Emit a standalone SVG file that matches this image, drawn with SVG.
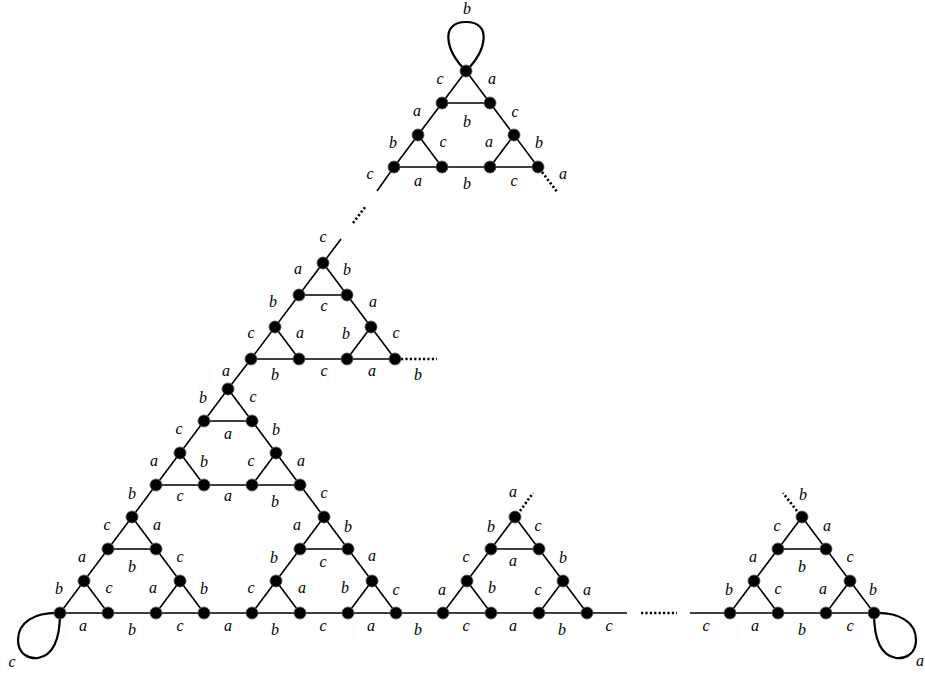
<svg xmlns="http://www.w3.org/2000/svg" width="925" height="675" viewBox="0 0 925 675">
<style>
.e{fill:none;stroke:#000;stroke-width:1.6;stroke-linecap:butt}
.d{fill:none;stroke:#000;stroke-width:2.6;stroke-dasharray:2.2,2.2}
.lp{fill:none;stroke:#000;stroke-width:2.2}
.n{fill:#000;stroke:#555;stroke-width:0.8}
text{font-family:"Liberation Serif",serif;font-style:italic;font-size:16px;text-anchor:middle;fill:#000}
</style>
<rect width="925" height="675" fill="#fff"/>
<g id="connectors">
<path class="e" d="M466,71 L394,167 M466,71 L538,167 M394,167 L538,167 M442,103 L490,103 M418,135 L442,167 M514,135 L490,167"/>
<path class="e" d="M323,263 L251,359 M323,263 L395,359 M251,359 L395,359 M299,295 L347,295 M275,327 L299,359 M371,327 L347,359"/>
<path class="e" d="M228,389 L60,613 M228,389 L396,613 M156,485 L300,485 M132,517 L204,613 M324,517 L252,613 M204,421 L252,421 M180,453 L204,485 M276,453 L252,485 M108,549 L156,549 M84,581 L108,613 M180,581 L156,613 M300,549 L348,549 M276,581 L300,613 M372,581 L348,613"/>
<path class="e" d="M60,613 L627,613 M690,613 L874,613"/>
<path class="e" d="M515,517 L443,613 M515,517 L587,613 M491,549 L539,549 M467,581 L491,613 M563,581 L539,613"/>
<path class="e" d="M802,517 L730,613 M802,517 L874,613 M778,549 L826,549 M754,581 L778,613 M850,581 L826,613"/>
<path class="e" d="M251,359 L228,389 M323,263 L341,239 M377,191 L394,167"/>
<path class="d" d="M353,223 L366,206 M401,359 L437,359 M542,172 L558,193 M520,511 L533,493 M797,511 L783,493 M641,613 L677,613"/>
<path class="lp" d="M466,71 C445,50 440,22 466,22 C492,22 487,50 466,71"/>
<path class="lp" d="M60,613 C35,612 18,622 18,640 C18,655 30,659 38,658 C55,655 60,635 60,613"/>
<path class="lp" d="M874,613 C899,612 916,622 916,640 C916,655 904,659 896,658 C879,655 874,635 874,613"/>
</g>
<g id="nodes">
<g id="t1"><circle class="n" cx="466" cy="71" r="6"/></g>
<g id="t2"><circle class="n" cx="442" cy="103" r="6"/></g>
<g id="t3"><circle class="n" cx="490" cy="103" r="6"/></g>
<g id="t4"><circle class="n" cx="418" cy="135" r="6"/></g>
<g id="t5"><circle class="n" cx="514" cy="135" r="6"/></g>
<g id="t6"><circle class="n" cx="394" cy="167" r="6"/></g>
<g id="t7"><circle class="n" cx="442" cy="167" r="6"/></g>
<g id="t8"><circle class="n" cx="490" cy="167" r="6"/></g>
<g id="t9"><circle class="n" cx="538" cy="167" r="6"/></g>
<g id="m1"><circle class="n" cx="323" cy="263" r="6"/></g>
<g id="m2"><circle class="n" cx="299" cy="295" r="6"/></g>
<g id="m3"><circle class="n" cx="347" cy="295" r="6"/></g>
<g id="m4"><circle class="n" cx="275" cy="327" r="6"/></g>
<g id="m5"><circle class="n" cx="371" cy="327" r="6"/></g>
<g id="m6"><circle class="n" cx="251" cy="359" r="6"/></g>
<g id="m7"><circle class="n" cx="299" cy="359" r="6"/></g>
<g id="m8"><circle class="n" cx="347" cy="359" r="6"/></g>
<g id="m9"><circle class="n" cx="395" cy="359" r="6"/></g>
<g id="a1"><circle class="n" cx="228" cy="389" r="6"/></g>
<g id="a2"><circle class="n" cx="204" cy="421" r="6"/></g>
<g id="a3"><circle class="n" cx="252" cy="421" r="6"/></g>
<g id="a4"><circle class="n" cx="180" cy="453" r="6"/></g>
<g id="a5"><circle class="n" cx="276" cy="453" r="6"/></g>
<g id="a6"><circle class="n" cx="156" cy="485" r="6"/></g>
<g id="a7"><circle class="n" cx="204" cy="485" r="6"/></g>
<g id="a8"><circle class="n" cx="252" cy="485" r="6"/></g>
<g id="a9"><circle class="n" cx="300" cy="485" r="6"/></g>
<g id="b1"><circle class="n" cx="132" cy="517" r="6"/></g>
<g id="b2"><circle class="n" cx="108" cy="549" r="6"/></g>
<g id="b3"><circle class="n" cx="156" cy="549" r="6"/></g>
<g id="b4"><circle class="n" cx="84" cy="581" r="6"/></g>
<g id="b5"><circle class="n" cx="180" cy="581" r="6"/></g>
<g id="b6"><circle class="n" cx="60" cy="613" r="6"/></g>
<g id="b7"><circle class="n" cx="108" cy="613" r="6"/></g>
<g id="b8"><circle class="n" cx="156" cy="613" r="6"/></g>
<g id="b9"><circle class="n" cx="204" cy="613" r="6"/></g>
<g id="c1"><circle class="n" cx="324" cy="517" r="6"/></g>
<g id="c2"><circle class="n" cx="300" cy="549" r="6"/></g>
<g id="c3"><circle class="n" cx="348" cy="549" r="6"/></g>
<g id="c4"><circle class="n" cx="276" cy="581" r="6"/></g>
<g id="c5"><circle class="n" cx="372" cy="581" r="6"/></g>
<g id="c6"><circle class="n" cx="252" cy="613" r="6"/></g>
<g id="c7"><circle class="n" cx="300" cy="613" r="6"/></g>
<g id="c8"><circle class="n" cx="348" cy="613" r="6"/></g>
<g id="c9"><circle class="n" cx="396" cy="613" r="6"/></g>
<g id="d1"><circle class="n" cx="515" cy="517" r="6"/></g>
<g id="d2"><circle class="n" cx="491" cy="549" r="6"/></g>
<g id="d3"><circle class="n" cx="539" cy="549" r="6"/></g>
<g id="d4"><circle class="n" cx="467" cy="581" r="6"/></g>
<g id="d5"><circle class="n" cx="563" cy="581" r="6"/></g>
<g id="d6"><circle class="n" cx="443" cy="613" r="6"/></g>
<g id="d7"><circle class="n" cx="491" cy="613" r="6"/></g>
<g id="d8"><circle class="n" cx="539" cy="613" r="6"/></g>
<g id="d9"><circle class="n" cx="587" cy="613" r="6"/></g>
<g id="r1"><circle class="n" cx="802" cy="517" r="6"/></g>
<g id="r2"><circle class="n" cx="778" cy="549" r="6"/></g>
<g id="r3"><circle class="n" cx="826" cy="549" r="6"/></g>
<g id="r4"><circle class="n" cx="754" cy="581" r="6"/></g>
<g id="r5"><circle class="n" cx="850" cy="581" r="6"/></g>
<g id="r6"><circle class="n" cx="730" cy="613" r="6"/></g>
<g id="r7"><circle class="n" cx="778" cy="613" r="6"/></g>
<g id="r8"><circle class="n" cx="826" cy="613" r="6"/></g>
<g id="r9"><circle class="n" cx="874" cy="613" r="6"/></g>
</g>
<g id="labels">
<text x="467" y="14">b</text>
<text x="440" y="84">c</text>
<text x="492" y="84">a</text>
<text x="417" y="116">a</text>
<text x="467" y="127">b</text>
<text x="515" y="117">c</text>
<text x="393" y="148">b</text>
<text x="443" y="147">c</text>
<text x="489" y="147">a</text>
<text x="539" y="148">b</text>
<text x="370" y="179">c</text>
<text x="418" y="186">a</text>
<text x="467" y="189">b</text>
<text x="514" y="186">c</text>
<text x="563" y="179">a</text>

<text x="323" y="242">c</text>
<text x="298" y="274">a</text>
<text x="347" y="275">b</text>
<text x="273" y="307">b</text>
<text x="324" y="311">c</text>
<text x="373" y="307">a</text>
<text x="251" y="338">c</text>
<text x="300" y="338">a</text>
<text x="346" y="339">b</text>
<text x="396" y="338">c</text>
<text x="275" y="380">b</text>
<text x="324" y="376">c</text>
<text x="372" y="376">a</text>
<text x="418" y="380">b</text>
<text x="226" y="376">a</text>

<text x="203" y="403">b</text>
<text x="253" y="402">c</text>
<text x="179" y="434">c</text>
<text x="228" y="439">a</text>
<text x="276" y="435">b</text>
<text x="154" y="466">a</text>
<text x="204" y="467">b</text>
<text x="251" y="466">c</text>
<text x="301" y="466">a</text>
<text x="132" y="499">b</text>
<text x="180" y="501">c</text>
<text x="228" y="501">a</text>
<text x="275" y="507">b</text>
<text x="324" y="498">c</text>
<text x="107" y="530">c</text>
<text x="157" y="530">a</text>
<text x="297" y="530">a</text>
<text x="348" y="532">b</text>
<text x="82" y="562">a</text>
<text x="132" y="572">b</text>
<text x="180" y="562">c</text>
<text x="274" y="563">b</text>
<text x="323" y="567">c</text>
<text x="372" y="561">a</text>
<text x="59" y="594">b</text>
<text x="109" y="593">c</text>
<text x="153" y="593">a</text>
<text x="204" y="594">b</text>
<text x="251" y="593">c</text>
<text x="302" y="593">a</text>
<text x="345" y="593">b</text>
<text x="396" y="595">c</text>
<text x="83" y="631">a</text>
<text x="132" y="635">b</text>
<text x="180" y="631">c</text>
<text x="228" y="631">a</text>
<text x="275" y="635">b</text>
<text x="323" y="631">c</text>
<text x="371" y="631">a</text>
<text x="418" y="635">b</text>
<text x="12" y="667">c</text>

<text x="513" y="497">a</text>
<text x="491" y="532">b</text>
<text x="538" y="531">c</text>
<text x="466" y="562">c</text>
<text x="513" y="566">a</text>
<text x="563" y="563">b</text>
<text x="442" y="595">a</text>
<text x="492" y="593">b</text>
<text x="538" y="595">c</text>
<text x="587" y="595">a</text>
<text x="466" y="631">c</text>
<text x="513" y="631">a</text>
<text x="562" y="635">b</text>
<text x="609" y="631">c</text>

<text x="803" y="500">b</text>
<text x="777" y="531">c</text>
<text x="827" y="531">a</text>
<text x="753" y="562">a</text>
<text x="802" y="572">b</text>
<text x="850" y="562">c</text>
<text x="729" y="595">b</text>
<text x="778" y="594">c</text>
<text x="823" y="594">a</text>
<text x="873" y="595">b</text>
<text x="706" y="631">c</text>
<text x="755" y="631">a</text>
<text x="802" y="635">b</text>
<text x="850" y="631">c</text>
<text x="920" y="666">a</text>
</g>
</svg>
